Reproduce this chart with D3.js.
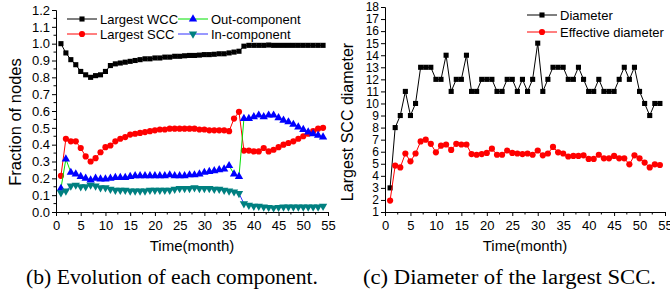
<!DOCTYPE html>
<html>
<head>
<meta charset="utf-8">
<script src="https://cdn.jsdelivr.net/npm/d3@7"></script>
<style>
  body { margin: 0; background: #fff; }
  svg { display: block; font-family: "Liberation Sans", Arial, sans-serif; }
  .caption { font-family: "Liberation Serif", "Times New Roman", serif; }
</style>
</head>
<body>
<svg id="chart" width="670" height="294"></svg>
<script>
// months 1..54
var months = d3.range(1, 55);

var largestWCC = [1.0, 0.945, 0.905, 0.875, 0.835, 0.815, 0.80, 0.81, 0.815, 0.835,
  0.87, 0.88, 0.885, 0.89, 0.895, 0.9, 0.905, 0.91, 0.91, 0.915,
  0.915, 0.92, 0.92, 0.925, 0.925, 0.928, 0.93, 0.93, 0.932, 0.935,
  0.935, 0.937, 0.94, 0.94, 0.945, 0.95, 0.955, 0.985, 0.99, 0.99,
  0.99, 0.99, 0.992, 0.99, 0.99, 0.99, 0.99, 0.99, 0.99, 0.99,
  0.99, 0.99, 0.99, 0.99];
var largestSCC = [0.215, 0.435, 0.42, 0.42, 0.38, 0.33, 0.30, 0.32, 0.355, 0.385,
  0.395, 0.42, 0.435, 0.445, 0.46, 0.465, 0.47, 0.475, 0.48, 0.485,
  0.49, 0.49, 0.495, 0.495, 0.495, 0.495, 0.495, 0.495, 0.49, 0.49,
  0.485, 0.485, 0.485, 0.485, 0.48, 0.555, 0.595, 0.365, 0.365, 0.36,
  0.36, 0.38, 0.36, 0.37, 0.385, 0.40, 0.41, 0.42, 0.435, 0.45,
  0.465, 0.48, 0.495, 0.50];
var outComponent = [0.14, 0.315, 0.235, 0.225, 0.21, 0.2, 0.19, 0.2, 0.195, 0.195,
  0.2, 0.205, 0.205, 0.205, 0.21, 0.215, 0.215, 0.215, 0.215, 0.215,
  0.215, 0.215, 0.22, 0.215, 0.215, 0.215, 0.22, 0.22, 0.225, 0.235,
  0.24, 0.245, 0.25, 0.255, 0.275, 0.225, 0.21, 0.555, 0.555, 0.565,
  0.575, 0.565, 0.575, 0.575, 0.56, 0.545, 0.535, 0.52, 0.505, 0.49,
  0.475, 0.465, 0.455, 0.445];
var inComponent = [0.115, 0.125, 0.155, 0.16, 0.15, 0.15, 0.16, 0.155, 0.145, 0.145,
  0.135, 0.13, 0.13, 0.13, 0.125, 0.125, 0.125, 0.125, 0.13, 0.13,
  0.13, 0.13, 0.13, 0.135, 0.14, 0.14, 0.14, 0.145, 0.14, 0.14,
  0.14, 0.135, 0.135, 0.13, 0.125, 0.12, 0.11, 0.05, 0.04, 0.035,
  0.035, 0.03, 0.028, 0.025, 0.028, 0.03, 0.03, 0.03, 0.03, 0.03,
  0.03, 0.03, 0.03, 0.035];

var diameter = [3, 8, 9, 11, 9, 10, 13, 13, 13, 12,
  12, 14, 11, 12, 12, 14, 11, 11, 12, 12,
  12, 11, 11, 12, 12, 11, 12, 11, 12, 15,
  11, 12, 13, 13, 13, 12, 12, 13, 12, 11,
  11, 12, 11, 11, 11, 12, 13, 12, 13, 11,
  10, 9, 10, 10];
var effDiameter = [1.95, 4.85, 4.7, 5.85, 5.2, 5.85, 6.85, 7.0, 6.65, 5.95,
  6.5, 6.6, 6.15, 6.65, 6.6, 6.6, 5.8, 5.75, 5.8, 5.9,
  6.25, 5.75, 5.75, 6.1, 5.9, 5.85, 5.8, 5.85, 5.75, 6.1,
  5.7, 5.85, 6.4, 5.95, 5.85, 5.6, 5.65, 5.65, 5.7, 5.4,
  5.4, 5.75, 5.45, 5.45, 5.65, 5.45, 5.45, 4.95, 5.7, 5.45,
  5.1, 4.7, 4.95, 4.9];

var xTicks = d3.range(0, 60, 5);
var leftYTicks = d3.range(0, 13).map(function (i) { return i / 10; });
var rightYTicks = d3.range(1, 19);

var svg = d3.select("#chart");
var FONT = "Liberation Sans, Arial, sans-serif";

function drawMarker(g, shape, color, x, y) {
  var type = shape === "square" ? d3.symbolSquare : shape === "circle" ? d3.symbolCircle : d3.symbolTriangle;
  var size = shape === "square" ? 26 : 30;
  g.append("path")
    .attr("d", d3.symbol(type, size)())
    .attr("fill", color)
    .attr("transform", "translate(" + x + "," + y + ")" + (shape === "down" ? " rotate(180)" : ""));
}

function axes(g, x, y, yTicks, yFmt, yMinor, yFont) {
  var xAxis = d3.axisBottom(x).tickValues(xTicks).tickSize(4).tickPadding(5);
  var ax = g.append("g").attr("transform", "translate(0," + y.range()[0] + ")").call(xAxis)
    .attr("font-family", FONT).attr("font-size", 13);
  ax.selectAll("text").attr("fill", "#000");
  ax.select(".domain").attr("stroke", "#000");
  // minor x ticks
  ax.selectAll(".minor").data(d3.range(2.5, 55, 5)).enter().append("line")
    .attr("x1", function (d) { return x(d); }).attr("x2", function (d) { return x(d); })
    .attr("y1", 0).attr("y2", 2.5).attr("stroke", "#000");

  var yAxis = d3.axisLeft(y).tickValues(yTicks).tickFormat(yFmt).tickSize(4).tickPadding(2);
  var ay = g.append("g").attr("transform", "translate(" + x.range()[0] + ",0)").call(yAxis)
    .attr("font-family", FONT).attr("font-size", yFont);
  ay.selectAll("text").attr("fill", "#000");
  ay.select(".domain").attr("stroke", "#000");
  if (yMinor) {
    ay.selectAll(".minor").data(yMinor).enter().append("line")
      .attr("y1", function (d) { return y(d); }).attr("y2", function (d) { return y(d); })
      .attr("x1", 0).attr("x2", -2.5).attr("stroke", "#000");
  }
}

function series(g, x, y, vals, lineColor, markColor, shape) {
  var line = d3.line().x(function (d, i) { return x(months[i]); }).y(function (d) { return y(d); });
  g.append("path").datum(vals).attr("d", line)
    .attr("fill", "none").attr("stroke", lineColor).attr("stroke-width", 1);
  vals.forEach(function (v, i) {
    drawMarker(g, shape, markColor, x(months[i]), y(v));
  });
}

function legendItem(g, x0, y0, len, label, lineColor, markColor, shape) {
  g.append("line").attr("x1", x0).attr("x2", x0 + len).attr("y1", y0).attr("y2", y0)
    .attr("stroke", lineColor).attr("stroke-width", 1);
  drawMarker(g, shape, markColor, x0 + len / 2, y0);
  g.append("text").attr("x", x0 + len + 3).attr("y", y0).attr("dy", "0.35em")
    .style("font-size", "13px").text(label);
}

// ---- left chart (b)
var xL = d3.scaleLinear().domain([0, 55]).range([56, 328]);
var yL = d3.scaleLinear().domain([0, 1.2]).range([212, 10]);
var gL = svg.append("g");
axes(gL, xL, yL, leftYTicks, d3.format(".1f"), d3.range(0.05, 1.2, 0.1), 13);

series(gL, xL, yL, largestWCC, "#000", "#000", "square");
series(gL, xL, yL, largestSCC, "#ff0000", "#ff0000", "circle");
series(gL, xL, yL, outComponent, "#00e000", "#0000ff", "up");
series(gL, xL, yL, inComponent, "#3333ff", "#008080", "down");

legendItem(gL, 67, 19, 30, "Largest WCC", "#000", "#000", "square");
legendItem(gL, 67, 34, 30, "Largest SCC", "#ff0000", "#ff0000", "circle");
legendItem(gL, 178, 19, 30, "Out-component", "#00e000", "#0000ff", "up");
legendItem(gL, 178, 34, 30, "In-component", "#3333ff", "#008080", "down");

gL.append("text").attr("transform", "translate(21,122) rotate(-90)")
  .attr("text-anchor", "middle").style("font-size", "16.5px").text("Fraction of nodes");
gL.append("text").attr("x", 192).attr("y", 251).attr("text-anchor", "middle")
  .style("font-size", "15px").text("Time(month)");
gL.append("text").attr("class", "caption").attr("x", 26).attr("y", 284)
  .attr("textLength", 292).attr("lengthAdjust", "spacingAndGlyphs")
  .style("font-size", "20px").text("(b) Evolution of each component.");

// ---- right chart (c)
var xR = d3.scaleLinear().domain([0, 55]).range([385, 665]);
var yR = d3.scaleLinear().domain([1, 18]).range([212, 7]);
var gR = svg.append("g");
axes(gR, xR, yR, rightYTicks, d3.format("d"), null, 12);

series(gR, xR, yR, diameter, "#000", "#000", "square");
series(gR, xR, yR, effDiameter, "#ff0000", "#ff0000", "circle");

legendItem(gR, 527, 15, 30, "Diameter", "#000", "#000", "square");
legendItem(gR, 527, 32, 30, "Effective diameter", "#ff0000", "#ff0000", "circle");

gR.append("text").attr("transform", "translate(353,122) rotate(-90)")
  .attr("text-anchor", "middle").style("font-size", "16px").text("Largest SCC diameter");
gR.append("text").attr("x", 525).attr("y", 251).attr("text-anchor", "middle")
  .style("font-size", "15px").text("Time(month)");
gR.append("text").attr("class", "caption").attr("x", 363).attr("y", 284)
  .attr("textLength", 293).attr("lengthAdjust", "spacingAndGlyphs")
  .style("font-size", "20px").text("(c) Diameter of the largest SCC.");
</script>
</body>
</html>
